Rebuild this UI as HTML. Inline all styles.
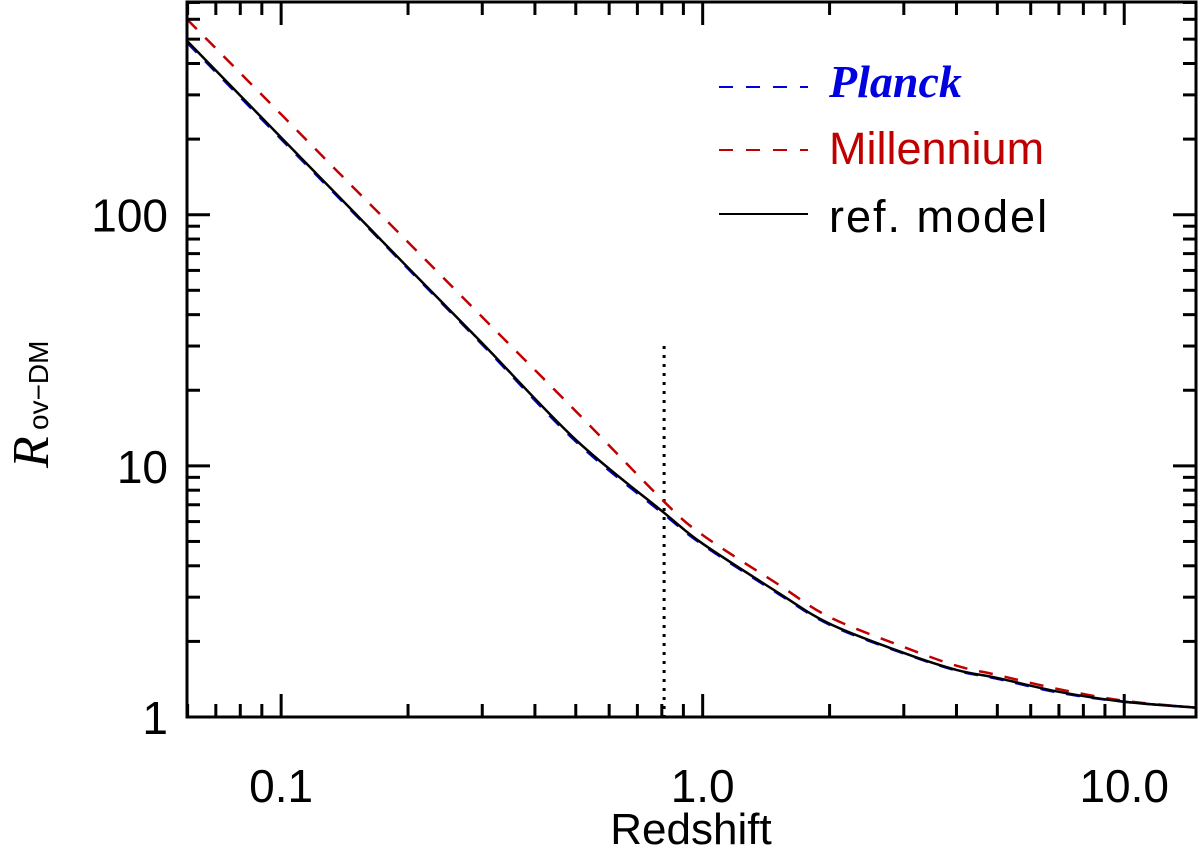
<!DOCTYPE html>
<html><head><meta charset="utf-8"><style>
html,body{margin:0;padding:0;background:#fff;}
svg{display:block;}
text{font-family:"Liberation Sans",sans-serif;}
</style></head><body>
<svg id="chart" width="1200" height="852" viewBox="0 0 1200 852" xmlns="http://www.w3.org/2000/svg">
<g id="marks"></g>
<rect x="187" y="2" width="1009" height="715" fill="none" stroke="#000" stroke-width="3"/>
<g id="ticks"></g>
<g>
 <line x1="719" y1="87" x2="808" y2="87" stroke="#0000e0" stroke-width="2" stroke-dasharray="14,13"/>
 <text x="829" y="97" fill="#0000e0" font-size="46" font-style="italic" font-weight="bold" style="font-family:'Liberation Serif',serif">Planck</text>
 <line x1="719" y1="150" x2="808" y2="150" stroke="#c00000" stroke-width="2" stroke-dasharray="14,13"/>
 <text x="829" y="164" fill="#c00000" font-size="45">Millennium</text>
 <line x1="719" y1="214" x2="808" y2="214" stroke="#000" stroke-width="2"/>
 <text x="829" y="232" fill="#000" font-size="45" letter-spacing="2">ref. model</text>
</g>
<text x="691" y="844" font-size="44" text-anchor="middle">Redshift</text>
<g transform="translate(48,440) rotate(-90)">
 <text x="-28" y="0" font-size="52" font-style="italic" style="font-family:'Liberation Serif',serif">R</text>
 <text x="10" y="0" font-size="28">ov−DM</text>
</g>
</svg>
<script>
const zValues=[0.0598,0.1,0.15,0.2,0.3,0.5,0.81,1.0,1.5,2,3,4,5,7,10,14.8];
const refModel=[492,203,101,61.6,30.8,12.7,6.5,4.9,3.15,2.35,1.80,1.54,1.43,1.26,1.15,1.09];
const planck=[485,200,100,61,30.4,12.5,6.4,4.85,3.12,2.33,1.79,1.53,1.42,1.25,1.15,1.09];
const millennium=[600,251,126,77.8,39.1,16.5,7.2,5.3,3.4,2.50,1.90,1.60,1.47,1.29,1.16,1.09];
const xTickLabels=["0.1","1.0","10.0"];
const xTickValues=[0.1,1,10];
const yTickLabels=["1","10","100"];
const yTickValues=[1,10,100];
const dottedZ=0.81, dottedTop=30;

const X0=187,X1=1196,Y0=2,Y1=717;
const xLo=Math.log10(0.0598),xHi=Math.log10(14.8);
const yLo=0,yHi=Math.log10(703);
const sx=v=>X0+(Math.log10(v)-xLo)/(xHi-xLo)*(X1-X0);
const sy=v=>Y1-(Math.log10(v)-yLo)/(yHi-yLo)*(Y1-Y0);
const NS="http://www.w3.org/2000/svg";
const marks=document.getElementById('marks'),ticks=document.getElementById('ticks');
function mk(tag,attrs,parent){const e=document.createElementNS(NS,tag);for(const k in attrs)e.setAttribute(k,attrs[k]);parent.appendChild(e);return e;}
function series(vals,color,dash,name){
  const P=zValues.map((z,i)=>[sx(z),sy(vals[i])]);
  let d='M'+P[0][0].toFixed(1)+','+P[0][1].toFixed(1);
  for(let i=0;i<P.length-1;i++){
    const p0=P[Math.max(0,i-1)],p1=P[i],p2=P[i+1],p3=P[Math.min(P.length-1,i+2)];
    const c1=[p1[0]+(p2[0]-p0[0])/6,p1[1]+(p2[1]-p0[1])/6];
    const c2=[p2[0]-(p3[0]-p1[0])/6,p2[1]-(p3[1]-p1[1])/6];
    d+=' C'+c1[0].toFixed(1)+','+c1[1].toFixed(1)+' '+c2[0].toFixed(1)+','+c2[1].toFixed(1)+' '+p2[0].toFixed(1)+','+p2[1].toFixed(1);
  }
  const p=mk('path',{d:d,fill:'none',stroke:color,'stroke-width':2.5},marks);
  if(dash)p.setAttribute('stroke-dasharray',dash);
  
  
}
const dl=mk('line',{x1:sx(dottedZ),x2:sx(dottedZ),y1:sy(dottedTop),y2:Y1,stroke:'#000','stroke-width':3,'stroke-dasharray':'3,6'},marks);


series(millennium,'#c00000','14,12','millennium-curve');
series(planck,'#0000e0','14,12','planck-curve');
series(refModel,'#000',null,'ref-model-curve');
for(let dec=0.01;dec<=10;dec*=10){for(let m=1;m<10;m++){const v=dec*m;if(v<0.0598||v>14.8)continue;const x=sx(v);const L=m===1?23:13;
 mk('line',{x1:x,x2:x,y1:Y1,y2:Y1-L,stroke:'#000','stroke-width':3},ticks);
 mk('line',{x1:x,x2:x,y1:Y0,y2:Y0+L,stroke:'#000','stroke-width':3},ticks);}}
for(let dec=1;dec<=100;dec*=10){for(let m=1;m<10;m++){const v=dec*m;if(v>703)continue;const y=sy(v);const L=m===1?23:13;
 mk('line',{x1:X0,x2:X0+L,y1:y,y2:y,stroke:'#000','stroke-width':3},ticks);
 mk('line',{x1:X1,x2:X1-L,y1:y,y2:y,stroke:'#000','stroke-width':3},ticks);}}
xTickLabels.forEach((t,i)=>{const e=mk('text',{x:sx(xTickValues[i]),y:802,'font-size':46,'text-anchor':'middle'},ticks);e.textContent=t;
 
 });
yTickLabels.forEach((t,i)=>{const e=mk('text',{x:168,y:sy(yTickValues[i])+17,'font-size':46,'text-anchor':'end'},ticks);e.textContent=t;
 
 });
</script>
</body></html>
